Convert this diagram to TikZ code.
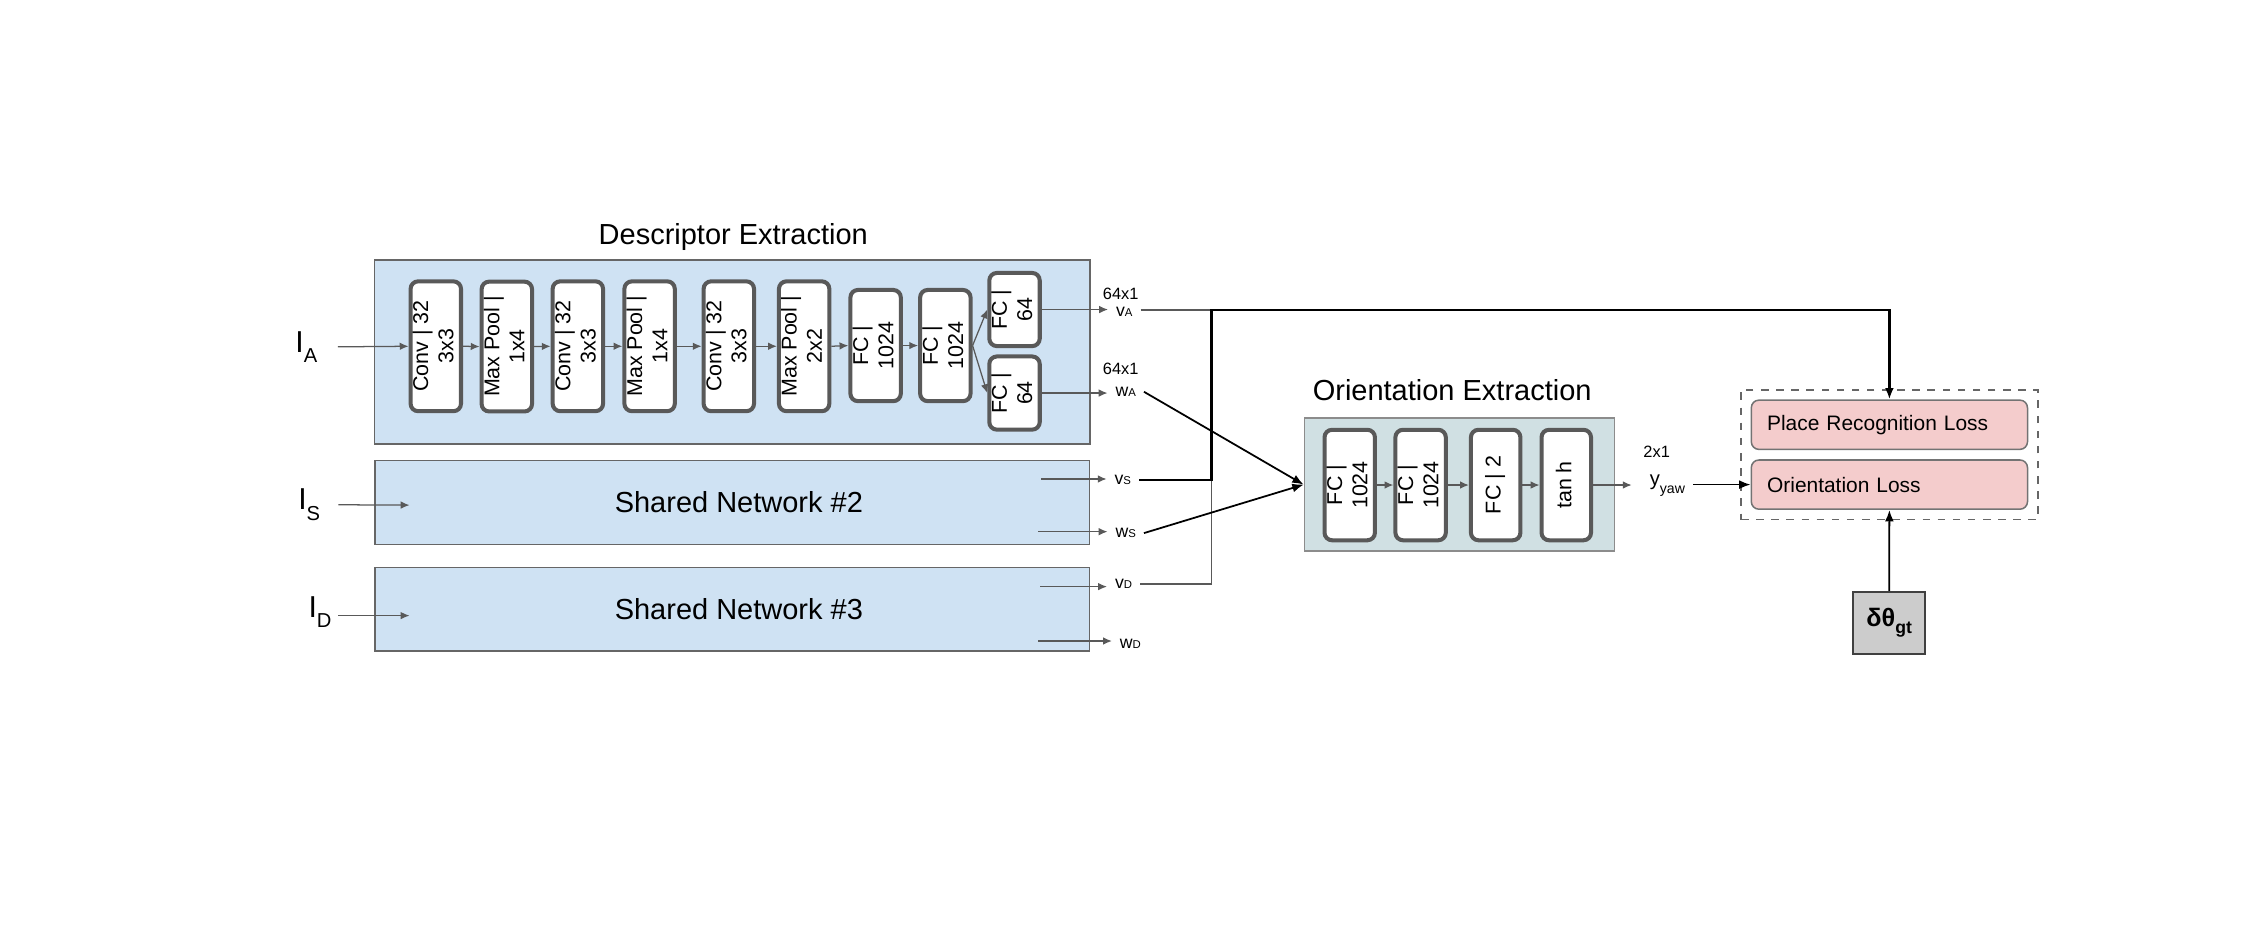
\documentclass[tikz,border=0pt]{standalone}
\usepackage{fontspec}
\setmainfont{Liberation Sans}
\usepackage{graphicx}
\usetikzlibrary{positioning,arrows.meta,fit,calc}

\definecolor{descblue}{HTML}{CFE2F3}
\definecolor{orientcyan}{HTML}{D0E0E3}
\definecolor{losspink}{HTML}{F4CCCC}
\definecolor{edgegray}{HTML}{595959}

\newcommand{\vlab}[1]{\rotatebox{90}{\begin{tabular}{@{}c@{}}#1\end{tabular}}}
\newcommand{\vsub}[2]{#1{\fontsize{4.5}{5}\selectfont #2}}
\newcommand{\isub}[1]{I\raisebox{-4pt}{\fontsize{8}{8}\selectfont #1}}

\begin{document}
\begin{tikzpicture}[x=0.02cm, y=-0.02cm,
    netbox/.style={draw=black!60, line width=0.6pt, fill=descblue, inner sep=0pt, font=\fontsize{11.5}{13}\selectfont},
    lyrbox/.style={draw=edgegray, line width=1.6pt, fill=white, rounded corners=3pt, minimum width=0.69cm, inner sep=0pt, font=\fontsize{8.5}{10}\selectfont},
    headlbl/.style={inner sep=0pt, font=\fontsize{11.5}{13}\selectfont},
    ilbl/.style={inner sep=0pt, font=\fontsize{12}{12}\selectfont},
    olbl/.style={inner sep=3pt, font=\fontsize{7}{8}\selectfont},
    dimlbl/.style={inner sep=1pt, font=\fontsize{6.5}{7}\selectfont},
    lossbox/.style={draw=black!55, line width=0.6pt, fill=losspink, rounded corners=3pt, text width=3.41cm, align=left, inner xsep=0.22cm, inner ysep=0pt, minimum height=0.686cm, font=\fontsize{8.3}{10}\selectfont},
    garrow/.style={draw=edgegray, line width=0.5pt, -{Latex[length=3.5pt,width=3pt]}},
    gline/.style={draw=edgegray, line width=0.5pt},
    bpath/.style={draw=black, line width=0.9pt, -{Latex[length=4.5pt,width=3.5pt]}},
    barrow/.style={draw=black, line width=0.7pt, -{Latex[length=4.5pt,width=3.5pt]}}]
    \useasboundingbox (0,0) rectangle (1568,654);

    % descriptor extraction
    \node[headlbl] (tde) at (511,165.5) {Descriptor Extraction};
    \node[netbox, minimum width=9.97cm, minimum height=2.57cm] (de) at (510.25,245.25) {};
    \node[netbox, minimum width=9.96cm, minimum height=1.166cm] (sn2) at (510.4,350.15) {\hspace*{0.18cm}Shared Network \#2};
    \node[netbox, minimum width=9.96cm, minimum height=1.168cm] (sn3) at (510.4,424.5) {\hspace*{0.18cm}Shared Network \#3};

    \node[lyrbox, minimum height=1.81cm] (c1) at (303.7,241.3) {\vlab{Conv | 32\\3x3}};
    \node[lyrbox, minimum height=1.81cm] (m1) at (353.2,241.5) {\vlab{Max Pool |\\1x4}};
    \node[lyrbox, minimum height=1.81cm] (c2) at (402.7,241.3) {\vlab{Conv | 32\\3x3}};
    \node[lyrbox, minimum height=1.81cm] (m2) at (452.7,241.3) {\vlab{Max Pool |\\1x4}};
    \node[lyrbox, minimum height=1.81cm] (c3) at (507.9,241.3) {\vlab{Conv | 32\\3x3}};
    \node[lyrbox, minimum height=1.81cm] (m3) at (560.4,241.3) {\vlab{Max Pool |\\2x2}};
    \node[lyrbox, minimum height=1.55cm] (fa) at (610.2,240.8) {\vlab{FC |\\1024}};
    \node[lyrbox, minimum height=1.55cm] (fb) at (658.8,240.8) {\vlab{FC |\\1024}};
    \node[lyrbox, minimum height=1.02cm] (fv) at (707,215.7) {\vlab{FC |\\64}};
    \node[lyrbox, minimum height=1.02cm] (fw) at (707,273.9) {\vlab{FC |\\64}};

    \foreach \p/\q in {c1/m1,m1/c2,c2/m2,m2/c3,c3/m3,m3/fa,fa/fb}
        \draw[garrow] (\p.east) -- (\q.west);
    \draw[garrow] (fb.east) -- (fv.west);
    \draw[garrow] (fb.east) -- (fw.west);

    % inputs
    \node[ilbl] (IA) at (213.5,241.8) {\isub{A}};
    \node[ilbl] (IS) at (215.5,351.7) {\isub{S}};
    \node[ilbl] (ID) at (223,426.5) {\isub{D}};
    \coordinate (s2in) at (285.4,352);
    \coordinate (s3in) at (285.4,429);
    \draw[garrow, shorten <=8pt] (IA.east) -- (c1.west);
    \draw[garrow, shorten <=7pt] (IS.east) -- (s2in);
    \draw[garrow, shorten <=2.5pt] (ID.east |- s3in) -- (s3in);

    % descriptor outputs
    \node[dimlbl] (dv) at (781,205) {64x1};
    \node[olbl] (vA) at (783.5,217.5) {\vsub{v}{A}};
    \node[dimlbl] (dw) at (781,257) {64x1};
    \node[olbl] (wA) at (784.5,273) {\vsub{w}{A}};
    \node[olbl] (vS) at (782.5,334.5) {\vsub{v}{S}};
    \node[olbl] (wS) at (784.5,371.5) {\vsub{w}{S}};
    \node[olbl] (vD) at (783,407) {\vsub{v}{D}};
    \node[olbl] (wD) at (787.8,448.5) {\vsub{w}{D}};
    \coordinate (s2v) at (725.5,333.8);
    \coordinate (s2w) at (723.7,370.5);
    \coordinate (s3v) at (725,408.8);
    \coordinate (s3w) at (723.7,446.7);
    \draw[garrow] (fv.east) -- (fv.east -| vA.west);
    \draw[garrow] (fw.east) -- (fw.east -| wA.west);
    \draw[garrow] (s2v) -- (s2v -| vS.west);
    \draw[garrow] (s2w) -- (s2w -| wS.west);
    \draw[garrow] (s3v) -- (s3v -| vD.west);
    \draw[garrow] (s3w) -- (s3w -| wD.west);

    % orientation extraction
    \node[headlbl] (toe) at (1012,272) {Orientation Extraction};
    \node[draw=black!45, line width=0.6pt, fill=orientcyan, minimum width=4.32cm, minimum height=1.85cm] (ob) at (1017,337.7) {};
    \node[lyrbox, minimum height=1.54cm] (o1) at (940.6,338) {\vlab{FC |\\1024}};
    \node[lyrbox, minimum height=1.54cm] (o2) at (990,338) {\vlab{FC |\\1024}};
    \node[lyrbox, minimum height=1.54cm] (o3) at (1042.3,338) {\vlab{FC | 2}};
    \node[lyrbox, minimum height=1.54cm] (o4) at (1091.5,338) {\vlab{tan h}};
    \foreach \p/\q in {o1/o2,o2/o3,o3/o4}
        \draw[garrow] (\p.east) -- (\q.west);
    \node[dimlbl] (dy) at (1154.5,314.8) {2x1};
    \node[olbl, font=\fontsize{8}{9}\selectfont] (yaw) at (1162,338.5) {y\raisebox{-3pt}{\fontsize{5.6}{6}\selectfont yaw}};
    \draw[garrow, shorten >=4pt] (o4.east) -- (o4.east -| yaw.west);

    % losses
    \node[lossbox] (prl) at (1316.7,296) {Place Recognition Loss};
    \node[lossbox] (ol) at (1316.7,337.7) {Orientation Loss};
    \node[draw=black!60, dashed, line width=0.6pt, fit=(prl)(ol), inner sep=3.8pt] (lg) {};
    \node[draw=black!75, line width=0.8pt, fill=black!20, minimum width=1cm, minimum height=0.864cm, inner sep=0pt] (gt) at (1316.5,434.1) {\bfseries\fontsize{10}{10}\selectfont δθ\raisebox{-2.6pt}{\fontsize{7}{7}\selectfont gt}};

    % connections
    \coordinate (jn) at (844.2,216);
    \draw[gline] (vA.east |- jn) -- (jn);
    \draw[gline] (vD.east) -| (vS.east -| jn);
    \draw[bpath] (vS.east) -| (jn) -| (prl.north);
    \draw[barrow] (wA.east) -- (ob.west);
    \draw[barrow] (wS.east) -- (ob.west);
    \draw[barrow] (ol.west -| yaw.east) -- (ol.west);
    \draw[barrow] (gt.north) -- (ol.south);
\end{tikzpicture}
\end{document}
